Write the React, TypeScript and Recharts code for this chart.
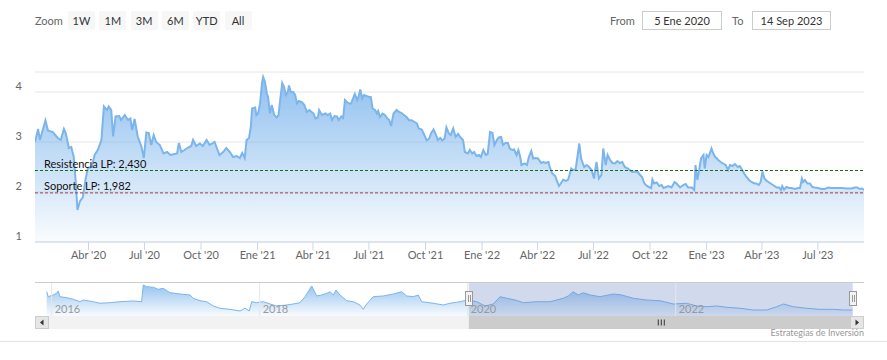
import React from "react";
import { AreaChart, Area, XAxis, YAxis, CartesianGrid, ReferenceLine, ReferenceArea } from "recharts";

const DAY = 86400000;
const START = Date.UTC(2020, 0, 5);
const END = Date.UTC(2023, 8, 14);

// day offset from 5 Ene 2020 / price
const priceDays = [
  0, 5, 8, 17, 21, 29, 37, 42, 47, 50,
  55, 59, 63, 66, 69, 73, 78, 82, 86, 92,
  97, 102, 108, 112, 117, 120, 124, 127, 131, 137,
  140, 146, 151, 155, 158, 162, 167, 173, 177, 181,
  185, 189, 193, 197, 203, 209, 215, 220, 227, 231,
  234, 238, 243, 249, 254, 257, 262, 268, 273, 279,
  284, 292, 296, 300, 306, 311, 317, 322, 328, 333,
  337, 341, 344, 348, 351, 353, 358, 360, 363, 366,
  369, 371, 374, 377, 379, 382, 385, 389, 393, 396,
  398, 402, 405, 408, 411, 413, 416, 420, 423, 426,
  429, 434, 438, 442, 446, 450, 453, 456, 460, 462,
  465, 467, 472, 476, 480, 483, 487, 491, 494, 498,
  501, 504, 507, 511, 514, 518, 520, 524, 526, 529,
  532, 535, 539, 543, 546, 549, 553, 556, 558, 561,
  565, 569, 573, 576, 579, 583, 588, 592, 596, 600,
  604, 608, 613, 617, 621, 624, 629, 633, 637, 641,
  644, 648, 652, 655, 659, 662, 666, 669, 673, 676,
  680, 684, 688, 692, 696, 699, 704, 707, 711, 714,
  718, 722, 725, 729, 733, 736, 740, 744, 747, 751,
  754, 758, 761, 765, 769, 772, 776, 779, 783, 786,
  789, 791, 796, 800, 803, 807, 810, 814, 818, 823,
  827, 830, 835, 837, 841, 846, 848, 852, 855, 859,
  863, 867, 872, 875, 879, 882, 885, 888, 890, 893,
  897, 901, 905, 909, 913, 917, 921, 924, 928, 931,
  935, 939, 943, 947, 951, 955, 959, 964, 967, 971,
  976, 980, 984, 987, 991, 995, 998, 1002, 1004, 1007,
  1011, 1015, 1019, 1022, 1026, 1030, 1035, 1040, 1043, 1049,
  1054, 1058, 1062, 1068, 1072, 1074, 1077, 1080, 1083, 1087,
  1089, 1092, 1095, 1098, 1100, 1103, 1106, 1108, 1111, 1115,
  1119, 1123, 1127, 1130, 1134, 1138, 1143, 1146, 1150, 1153,
  1157, 1161, 1165, 1170, 1173, 1177, 1180, 1183, 1186, 1190,
  1195, 1200, 1206, 1210, 1213, 1215, 1218, 1222, 1226, 1230,
  1236, 1241, 1244, 1247, 1249, 1252, 1256, 1260, 1264, 1268,
  1273, 1279, 1284, 1290, 1295, 1303, 1311, 1320, 1328, 1333,
  1337, 1341, 1345, 1348,
];

const priceValues = [
  3.0, 3.26, 3.04, 3.43, 3.23, 3.2, 3.08, 3.04, 3.26, 3.18,
  2.88, 2.9, 2.7, 2.24, 1.64, 1.81, 1.9, 2.24, 2.48, 2.5,
  2.74, 2.84, 3.04, 3.71, 3.64, 3.71, 3.64, 3.11, 3.51, 3.52,
  3.44, 3.54, 3.44, 3.47, 3.24, 3.46, 3.11, 2.91, 2.68, 3.19,
  3.18, 2.94, 3.14, 3.0, 2.94, 2.77, 2.8, 2.74, 2.76, 2.77,
  2.98, 2.8, 2.84, 2.89, 2.92, 3.04, 2.92, 2.97, 2.92, 3.04,
  2.94, 3.0, 2.87, 2.74, 2.8, 2.88, 2.8, 2.7, 2.72, 2.68,
  2.78, 2.68, 3.04, 3.08, 3.31, 3.67, 3.69, 3.54, 3.58, 3.77,
  4.17, 4.3, 4.2, 3.97, 3.9, 3.57, 3.74, 3.54, 3.49, 3.54,
  3.77, 4.18, 4.1, 3.94, 4.0, 4.13, 4.0, 4.0, 3.94, 3.77,
  3.82, 3.8, 3.74, 3.6, 3.64, 3.6, 3.57, 3.47, 3.49, 3.64,
  3.57, 3.54, 3.57, 3.54, 3.57, 3.44, 3.52, 3.51, 3.44, 3.51,
  3.48, 3.84, 3.8, 3.77, 3.77, 3.9, 3.96, 3.84, 3.9, 4.05,
  3.87, 3.94, 3.92, 3.9, 3.9, 3.67, 3.64, 3.57, 3.62, 3.5,
  3.57, 3.54, 3.47, 3.44, 3.32, 3.57, 3.64, 3.6, 3.58, 3.54,
  3.5, 3.44, 3.43, 3.4, 3.37, 3.27, 3.25, 3.14, 3.03, 3.07,
  3.17, 3.25, 3.14, 3.04, 3.08, 3.03, 3.07, 3.29, 3.17, 3.14,
  3.27, 3.1, 3.16, 3.09, 3.04, 2.8, 2.77, 2.84, 2.77, 2.8,
  2.72, 2.74, 2.7, 2.84, 2.74, 2.76, 3.2, 3.18, 2.94, 3.04,
  3.09, 3.1, 2.94, 2.98, 2.98, 2.87, 2.84, 2.85, 2.74, 2.84,
  2.7, 2.54, 2.57, 2.54, 2.7, 2.82, 2.67, 2.68, 2.67, 2.58,
  2.6, 2.58, 2.6, 2.5, 2.37, 2.32, 2.24, 2.12, 2.17, 2.25,
  2.22, 2.25, 2.47, 2.44, 2.45, 2.7, 2.97, 2.67, 2.6, 2.5,
  2.54, 2.5, 2.44, 2.27, 2.6, 2.27, 2.34, 2.87, 2.54, 2.74,
  2.64, 2.58, 2.57, 2.62, 2.58, 2.6, 2.5, 2.47, 2.44, 2.4,
  2.41, 2.4, 2.34, 2.3, 2.17, 2.12, 2.1, 2.08, 2.25, 2.17,
  2.19, 2.12, 2.14, 2.08, 2.1, 2.12, 2.09, 2.2, 2.17, 2.09,
  2.14, 2.16, 2.09, 2.09, 2.04, 2.54, 2.24, 2.44, 2.67, 2.74,
  2.47, 2.74, 2.7, 2.8, 2.87, 2.77, 2.7, 2.68, 2.64, 2.6,
  2.57, 2.54, 2.44, 2.54, 2.52, 2.56, 2.5, 2.52, 2.44, 2.37,
  2.3, 2.24, 2.2, 2.17, 2.17, 2.14, 2.2, 2.41, 2.27, 2.22,
  2.18, 2.14, 2.09, 2.09, 2.04, 2.12, 2.05, 2.1, 2.08, 2.08,
  2.06, 2.08, 2.08, 2.27, 2.2, 2.24, 2.17, 2.17, 2.1, 2.09,
  2.08, 2.06, 2.06, 2.09, 2.08, 2.08, 2.08, 2.07, 2.07, 2.09,
  2.09, 2.06, 2.07, 2.04,
];

const tickDates = [
  "2020-04-01", "2020-07-01", "2020-10-01", "2021-01-01", "2021-04-01", "2021-07-01", "2021-10-01",
  "2022-01-01", "2022-04-01", "2022-07-01", "2022-10-01", "2023-01-01", "2023-04-01", "2023-07-01",
];
const tickLabels = [
  "Abr '20", "Jul '20", "Oct '20", "Ene '21", "Abr '21", "Jul '21", "Oct '21",
  "Ene '22", "Abr '22", "Jul '22", "Oct '22", "Ene '23", "Abr '23", "Jul '23",
];
const yTicks = [1, 2, 3, 4];

const resistance = 2.43;
const support = 1.982;
const resistanceLabel = "Resistencia LP: 2,430";
const supportLabel = "Soporte LP: 1,982";

// navigator (full history, decimal years)
const navYears = [
  2015.952, 2015.967, 2016.015, 2016.048, 2016.063, 2016.08, 2016.144, 2016.208, 2016.272, 2016.304,
  2016.4, 2016.464, 2016.561, 2016.657, 2016.785, 2016.865,
  2016.881, 2016.913, 2016.977, 2017.025, 2017.073, 2017.138, 2017.234, 2017.33, 2017.362, 2017.426, 2017.49,
  2017.554, 2017.618, 2017.714, 2017.811, 2017.859, 2017.9, 2017.923, 2017.971, 2018.035,
  2018.099, 2018.163, 2018.26, 2018.323, 2018.388, 2018.436,
  2018.5, 2018.548, 2018.596, 2018.644, 2018.676, 2018.708, 2018.734, 2018.772, 2018.837, 2018.9, 2018.964, 2018.996,
  2019.029, 2019.092, 2019.188, 2019.285, 2019.365, 2019.413, 2019.477, 2019.525, 2019.558, 2019.669, 2019.765, 2019.83, 2019.926, 2020.0,
  2020.087, 2020.167, 2020.246, 2020.311, 2020.375, 2020.455, 2020.535, 2020.663, 2020.791, 2020.919, 2020.967,
  2021.015, 2021.063, 2021.111, 2021.176, 2021.272, 2021.4, 2021.481, 2021.592, 2021.721, 2021.849, 2021.977,
  2022.106, 2022.202, 2022.298, 2022.394, 2022.49, 2022.618, 2022.746, 2022.875, 2022.971,
  2023.035, 2023.131, 2023.26, 2023.388, 2023.516, 2023.612, 2023.699,
];
const navValues = [
  4.3, 3.69, 3.9, 4.1, 4.39, 3.69, 3.57, 3.37, 3.08, 3.29,
  3.08, 2.89, 2.96, 3.08, 3.17, 3.08,
  5.12, 4.91, 4.84, 4.59, 4.71, 4.18, 4.02, 3.9, 3.5, 3.2, 3.08,
  2.56, 2.28, 2.15, 1.95, 2.28, 1.95, 3.08, 2.96, 3.08,
  2.8, 2.56, 2.68, 2.8, 2.96, 3.69,
  5.0, 3.78, 3.9, 4.1, 4.3, 3.9, 4.51, 3.9, 3.2, 3.08, 2.68, 2.15,
  2.8, 3.69, 3.78, 4.02, 4.3, 3.78, 3.69, 3.9, 3.08, 2.89, 2.68, 2.89, 3.08, 3.29,
  3.08, 2.56, 2.8, 3.69, 3.5, 3.29, 2.96, 3.08, 3.08, 3.5, 3.78,
  4.3, 3.9, 4.18, 3.9, 3.69, 4.02, 3.9, 3.5, 3.29, 3.2, 2.8,
  2.89, 2.56, 2.47, 2.56, 2.4, 2.28, 2.07, 2.07, 2.47,
  2.8, 2.47, 2.28, 2.15, 2.15, 2.07, 2.07,
];
const navYearTicks = [2016, 2018, 2020, 2022];
const NAV_MIN = 2015.84;
const NAV_MAX = 2023.81;

const zoomButtons = ["1W", "1M", "3M", "6M", "YTD", "All"];
const fromText = "5 Ene 2020";
const toText = "14 Sep 2023";
const credit = "Estrategias de Inversión";

const PLOT_L = 35;
const PLOT_R = 864;

const toYear = (ts: number) => 2020 + (ts - Date.UTC(2020, 0, 1)) / (365.25 * DAY);
const navX = (yr: number) => PLOT_L + ((yr - NAV_MIN) / (NAV_MAX - NAV_MIN)) * (PLOT_R - PLOT_L);

function RefLabel(props: any) {
  const vb = props.viewBox || { x: 0, y: 0 };
  return (
    <text x={vb.x + 9} y={vb.y - 3} fill="#111" fontSize={11}>
      {props.text}
    </text>
  );
}

function YearLabel(props: any) {
  const vb = props.viewBox || { x: 0, y: 0, height: 0 };
  return (
    <text x={vb.x + 3} y={vb.y + vb.height - 3} fill="#999" fontSize={11}>
      {props.text}
    </text>
  );
}

function YTick(props: any) {
  return (
    <text x={22} y={props.y - 2} textAnchor="end" fill="#666" fontSize={11}>
      {props.payload.value}
    </text>
  );
}

export default function App() {
  const data = priceDays.map((d, i) => ({ t: START + d * DAY, v: priceValues[i] }));
  const navData = navYears.map((y, i) => ({ yr: y, v: navValues[i] }));
  const tickTimes = tickDates.map((s) => Date.parse(s + "T00:00:00Z"));
  const selA = toYear(START);
  const selB = toYear(END);
  const sx1 = navX(selA);
  const sx2 = navX(selB);

  return (
    <div style={{ position: "relative", width: 887, height: 360, fontFamily: "Lato, 'Open Sans', sans-serif", background: "#fff" }}>
      <style>{`body{margin:0}`}</style>

      {/* range selector */}
      <div style={{ position: "absolute", left: 35, top: 12, fontSize: 11, color: "#666", lineHeight: "17px" }}>Zoom</div>
      {zoomButtons.map((b, i) => (
        <div
          key={b}
          style={{
            position: "absolute", left: 68 + i * 31.3, top: 11, width: 27, height: 19, background: "#f7f7f7",
            borderRadius: 2, fontSize: 11, color: "#333", textAlign: "center", lineHeight: "19px",
          }}
        >
          {b}
        </div>
      ))}
      <div style={{ position: "absolute", left: 610, top: 12, fontSize: 11, color: "#666", lineHeight: "17px" }}>From</div>
      <div style={{ position: "absolute", left: 642, top: 11, width: 78, height: 17, border: "1px solid #ccc", fontSize: 11, color: "#333", textAlign: "center", lineHeight: "17px" }}>{fromText}</div>
      <div style={{ position: "absolute", left: 732, top: 12, fontSize: 11, color: "#666", lineHeight: "17px" }}>To</div>
      <div style={{ position: "absolute", left: 752, top: 11, width: 77, height: 17, border: "1px solid #ccc", fontSize: 11, color: "#333", textAlign: "center", lineHeight: "17px" }}>{toText}</div>

      {/* main chart */}
      <div style={{ position: "absolute", left: 0, top: 0 }}>
        <AreaChart width={887} height={272} data={data} margin={{ top: 72, right: 887 - PLOT_R, bottom: 0, left: 0 }}>
          <defs>
            <linearGradient id="mainFill" x1="0" y1="0" x2="0" y2="1">
              <stop offset="0%" stopColor="#7cb5ec" stopOpacity={0.85} />
              <stop offset="100%" stopColor="#7cb5ec" stopOpacity={0.04} />
            </linearGradient>
          </defs>
          <CartesianGrid vertical={false} stroke="#e6e6e6" />
          <XAxis
            dataKey="t" type="number" domain={[START, END]} ticks={tickTimes} allowDataOverflow
            tickFormatter={(v: number) => tickLabels[tickTimes.indexOf(v)] || ""}
            stroke="#ccd6eb" tickSize={8} tickMargin={1} height={30}
            tick={{ fill: "#666", fontSize: 11 }} interval={0}
          />
          <YAxis domain={[1, 4.4]} ticks={yTicks} width={PLOT_L} axisLine={false} tickLine={false} tick={<YTick />} allowDataOverflow />
          <Area type="linear" dataKey="v" stroke="#7cb5ec" strokeWidth={2} fill="url(#mainFill)" fillOpacity={1} isAnimationActive={false} dot={false} activeDot={false} />
          <ReferenceLine y={resistance} stroke="#1a6b1a" strokeDasharray="3 2" label={<RefLabel text={resistanceLabel} />} />
          <ReferenceLine y={support} stroke="#a0394a" strokeDasharray="3 2" label={<RefLabel text={supportLabel} />} />
        </AreaChart>
      </div>

      {/* navigator */}
      <div style={{ position: "absolute", left: 0, top: 282 }}>
        <AreaChart width={887} height={34} data={navData} margin={{ top: 0, right: 887 - PLOT_R, bottom: 0, left: PLOT_L }}>
          <defs>
            <linearGradient id="navFill" x1="0" y1="0" x2="0" y2="1">
              <stop offset="0%" stopColor="#7cb5ec" stopOpacity={0.8} />
              <stop offset="100%" stopColor="#7cb5ec" stopOpacity={0.05} />
            </linearGradient>
          </defs>
          <XAxis dataKey="yr" type="number" domain={[NAV_MIN, NAV_MAX]} hide allowDataOverflow />
          <YAxis domain={[1.34, 5.48]} hide allowDataOverflow />
          {navYearTicks.map((y) => (
            <ReferenceLine key={y} x={y} stroke="#e6e6e6" label={<YearLabel text={String(y)} />} />
          ))}
          <Area type="linear" dataKey="v" stroke="#7cb5ec" strokeWidth={1} fill="url(#navFill)" fillOpacity={1} isAnimationActive={false} dot={false} activeDot={false} />
          <ReferenceArea x1={selA} x2={selB} fill="#6685c2" fillOpacity={0.3} stroke="none" />
        </AreaChart>
      </div>

      {/* navigator outline, handles and scrollbar */}
      <svg width={887} height={360} style={{ position: "absolute", left: 0, top: 0, pointerEvents: "none" }}>
        <line x1={PLOT_L} x2={PLOT_R} y1={282.5} y2={282.5} stroke="#cccccc" />
        <rect x={PLOT_L} y={316} width={PLOT_R - PLOT_L} height={13} fill="#f2f2f2" />
        <rect x={sx1} y={316} width={sx2 - sx1} height={13} fill="#cccccc" />
        {[-3, 0, 3].map((d) => (
          <line key={d} x1={(sx1 + sx2) / 2 + d + 0.5} x2={(sx1 + sx2) / 2 + d + 0.5} y1={319.5} y2={325.5} stroke="#333" />
        ))}
        <rect x={PLOT_L + 0.5} y={316.5} width={13} height={12} fill="#e6e6e6" stroke="#cccccc" />
        <path d={`M ${PLOT_L + 8.5} 319.5 L ${PLOT_L + 8.5} 325.5 L ${PLOT_L + 5} 322.5 Z`} fill="#333" />
        <rect x={PLOT_R - 13.5} y={316.5} width={13} height={12} fill="#e6e6e6" stroke="#cccccc" />
        <path d={`M ${PLOT_R - 8.5} 319.5 L ${PLOT_R - 8.5} 325.5 L ${PLOT_R - 5} 322.5 Z`} fill="#333" />
        {[sx1, sx2].map((x, i) => (
          <g key={i}>
            <rect x={Math.round(x) - 3.5} y={291.5} width={7} height={14} fill="#f2f2f2" stroke="#999" />
            <line x1={Math.round(x) - 0.5} x2={Math.round(x) - 0.5} y1={295} y2={302} stroke="#999" />
            <line x1={Math.round(x) + 1.5} x2={Math.round(x) + 1.5} y1={295} y2={302} stroke="#999" />
          </g>
        ))}
        <text x={PLOT_R} y={336} textAnchor="end" fontSize={9} fill="#999">{credit}</text>
        <line x1={0} x2={887} y1={341.5} y2={341.5} stroke="#e3e3e3" />
      </svg>
    </div>
  );
}
